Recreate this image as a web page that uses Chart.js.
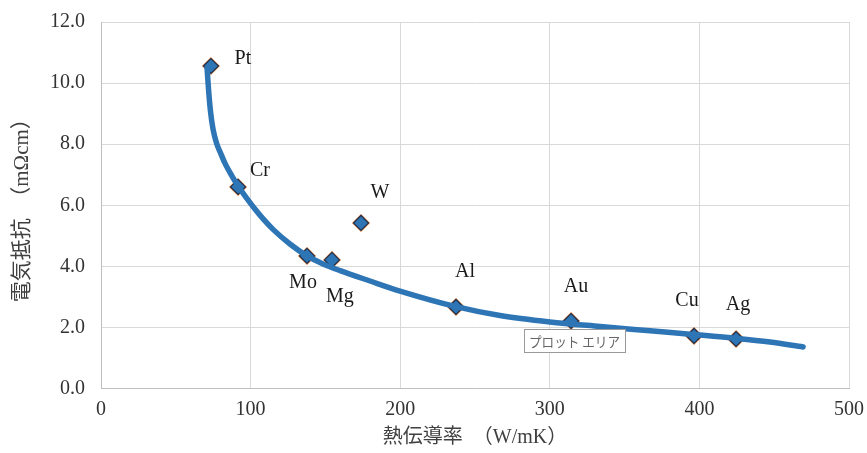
<!DOCTYPE html>
<html>
<head>
<meta charset="utf-8">
<script src="https://cdn.jsdelivr.net/npm/chart.js@4"></script>
<style>
  body { margin: 0; background: #fff; }
  #wrap { width: 867px; height: 453px; position: relative; }
</style>
</head>
<body>
<div id="wrap"><canvas id="chart"></canvas></div>
<script>
// metals: thermal conductivity (W/mK) vs electrical resistivity
const metals = ['Pt', 'Cr', 'Mo', 'Mg', 'W', 'Al', 'Au', 'Cu', 'Ag'];
const conductivity = [73.5, 91.6, 137.7, 154.4, 173.8, 237.3, 314.2, 396.4, 424.5];
const resistivity = [10.56, 6.60, 4.34, 4.21, 5.42, 2.67, 2.21, 1.72, 1.62];

// trend line
const trendX = [70.9, 71.9, 73.2, 74.9, 77.2, 79.9, 82.9, 86.9, 91.6, 97.6, 102.9, 109.0, 115.0, 126.3, 137.7, 148.4, 159.8, 179.8, 199.9, 237.3, 266.7, 300.1, 333.6, 367.0, 395.7, 425.1, 447.2, 469.3];
const trendY = [10.49, 9.78, 9.07, 8.49, 8.04, 7.71, 7.37, 7.01, 6.63, 6.22, 5.88, 5.52, 5.21, 4.73, 4.34, 4.08, 3.86, 3.52, 3.19, 2.68, 2.39, 2.18, 2.03, 1.89, 1.77, 1.64, 1.52, 1.36];

const xTicks = [0, 100, 200, 300, 400, 500];
const yTicks = [0, 2, 4, 6, 8, 10, 12];

const serif = "'Liberation Serif', 'Noto Sans CJK JP', serif";

// label offsets (px) from each marker
const labelOffset = {
    Pt: [32, -7], Cr: [22, -16], Mo: [-4, 27], Mg: [8, 37], W: [19, -30],
    Al: [9, -35], Au: [5, -34], Cu: [-7, -35], Ag: [2, -34]
};

const points = conductivity.map((x, i) => ({ x: x, y: resistivity[i] }));
const trend = trendX.map((x, i) => ({ x: x, y: trendY[i] }));

const labelPlugin = {
    id: 'labels',
    afterDatasetsDraw(chart) {
        const ctx = chart.ctx;
        const xs = chart.scales.x, ys = chart.scales.y;
        ctx.save();
        ctx.font = "20px " + serif;
        ctx.fillStyle = '#1a1a1a';
        ctx.textAlign = 'center';
        ctx.textBaseline = 'middle';
        metals.forEach((m, i) => {
            const off = labelOffset[m];
            ctx.fillText(m, xs.getPixelForValue(conductivity[i]) + off[0], ys.getPixelForValue(resistivity[i]) + off[1]);
        });

        // "plot area" hover box from the screenshot
        ctx.fillStyle = '#fff';
        ctx.strokeStyle = '#9a9a9a';
        ctx.lineWidth = 1;
        ctx.fillRect(524.5, 329.5, 101, 23);
        ctx.strokeRect(524.5, 329.5, 101, 23);
        ctx.fillStyle = '#666';
        ctx.font = "14px 'Noto Sans CJK JP'";
        ctx.textAlign = 'left';
        const txt = 'プロット エリア';
        const w = ctx.measureText(txt).width;
        ctx.translate(529, 341.5);
        ctx.scale(Math.min(1, 91 / w), 1);
        ctx.fillText(txt, 0, 0);
        ctx.restore();
    }
};

new Chart(document.getElementById('chart'), {
    type: 'scatter',
    data: {
        datasets: [
            {
                type: 'line', data: trend, order: 0,
                borderColor: '#2e75b6', borderWidth: 5.5, pointRadius: 0,
                cubicInterpolationMode: 'monotone', borderCapStyle: 'round', fill: false
            },
            {
                data: points, order: 1,
                pointStyle: 'rectRot', pointRadius: 7.5, borderWidth: 1.2,
                backgroundColor: '#2e75b6', borderColor: '#1f3350'
            },
            {
                data: points, order: 2,
                pointStyle: 'rectRot', pointRadius: 9, borderWidth: 0,
                backgroundColor: '#ed7d31'
            }
        ]
    },
    options: {
        responsive: true, maintainAspectRatio: false, animation: false,
        layout: { padding: { top: 22, right: 18, left: 0, bottom: 0 } },
        plugins: { legend: { display: false }, tooltip: { enabled: false } },
        scales: {
            x: {
                type: 'linear', min: 0, max: 500,
                afterBuildTicks: s => { s.ticks = xTicks.map(v => ({ value: v })); },
                afterFit: s => { s.height = 64.5; s.paddingLeft = 0; s.paddingRight = 0; },
                grid: { color: '#d9d9d9', drawTicks: false },
                border: { color: '#bfbfbf' },
                ticks: { color: '#333', padding: 9, font: { family: serif, size: 20 } },
                title: {
                    display: true, text: '熱伝導率　（W/mK）', color: '#404040',
                    font: { family: serif, size: 20 }, padding: { top: 0, bottom: 3 }
                }
            },
            y: {
                type: 'linear', min: 0, max: 12,
                afterBuildTicks: s => { s.ticks = yTicks.map(v => ({ value: v })); },
                afterFit: s => { s.width = 101; s.paddingTop = 0; s.paddingBottom = 0; },
                grid: { color: '#d9d9d9', drawTicks: false },
                border: { color: '#bfbfbf' },
                ticks: { color: '#333', padding: 16, font: { family: serif, size: 20 }, callback: v => v.toFixed(1) },
                title: {
                    display: true, text: '電気抵抗　（mΩcm）', color: '#404040',
                    font: { family: serif, size: 21 }, padding: { top: 10, bottom: 0 }
                }
            }
        }
    },
    plugins: [labelPlugin]
});
</script>
</body>
</html>
